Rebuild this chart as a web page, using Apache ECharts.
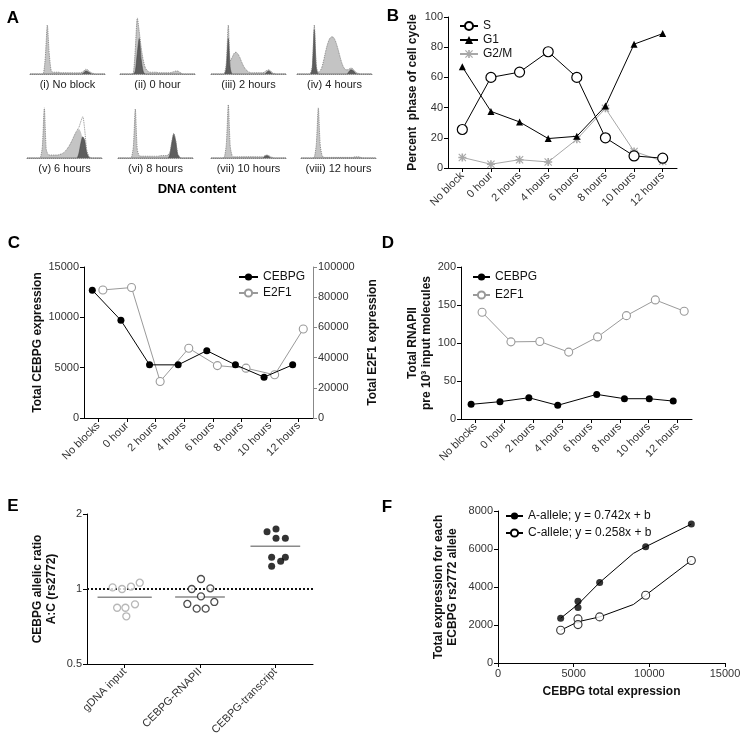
<!DOCTYPE html>
<html><head><meta charset="utf-8">
<script src="https://cdn.jsdelivr.net/npm/echarts@6/dist/echarts.min.js"></script>
<style>html,body{margin:0;padding:0;background:#fff}#c{width:748px;height:747px}</style>
</head><body><div id="c"></div>
<script>
// ---------- Panel A: DNA-content histograms (40 bins each) ----------
const histLabels = ['(i) No block','(ii) 0 hour','(iii) 2 hours','(iv) 4 hours','(v) 6 hours','(vi) 8 hours','(vii) 10 hours','(viii) 12 hours'];
const histI_total   = [0,0,0,0,0,0,0,1,30,83,35,6,3,3,3,3,2,2,2,2,2,2,2,2,2,2,2,3,5,8,7,4,2,1,0,0,0,0,0,0];
const histI_dark    = [0,0,0,0,0,0,0,0,0,0,0,0,0,0,0,0,0,0,0,0,0,0,0,0,0,0,0,0,2,5,4,2,0,0,0,0,0,0,0,0];
const histII_total  = [0,0,0,0,0,0,0,3,45,95,72,45,25,12,6,4,3,3,3,3,2,2,2,2,2,2,2,3,4,5,5,3,1,0,0,0,0,0,0,0];
const histII_dark   = [0,0,0,0,0,0,0,0,5,35,60,25,5,0,0,0,0,0,0,0,0,0,0,0,0,0,0,0,0,0,0,0,0,0,0,0,0,0,0,0];
const histIII_total = [0,0,0,0,0,0,0,1,20,83,22,28,35,37,34,28,20,13,8,5,3,2,2,2,2,2,2,2,4,6,7,5,2,1,0,0,0,0,0,0];
const histIII_dark  = [0,0,0,0,0,0,0,0,10,60,10,0,0,0,0,0,0,0,0,0,0,0,0,0,0,0,0,0,0,3,5,3,0,0,0,0,0,0,0,0];
const histIV_total  = [0,0,0,0,0,0,0,1,15,83,15,3,5,12,25,40,52,60,63,62,56,46,34,22,13,8,7,8,10,9,5,2,1,0,0,0,0,0,0,0];
const histIV_dark   = [0,0,0,0,0,0,0,0,10,75,10,0,0,0,0,0,0,0,0,0,0,0,0,0,0,0,0,4,7,6,3,0,0,0,0,0,0,0,0,0];
const histV_total   = [0,0,0,0,0,0,0,1,20,85,15,6,5,5,5,5,5,6,7,9,12,16,21,27,34,41,47,52,62,70,48,15,4,1,0,0,0,0,0,0];
const histV_light   = [0,0,0,0,0,0,0,1,20,85,15,6,5,5,5,5,5,6,7,9,12,16,21,27,34,41,46,49,44,30,12,3,0,0,0,0,0,0,0,0];
const histV_dark    = [0,0,0,0,0,0,0,0,0,0,0,0,0,0,0,0,0,0,0,0,0,0,0,0,0,0,0,8,25,36,30,10,2,0,0,0,0,0,0,0];
const histVI_total  = [0,0,0,0,0,0,0,1,20,83,15,4,3,3,3,3,3,3,3,3,3,3,4,4,4,4,5,10,28,42,30,8,2,0,0,0,0,0,0,0];
const histVI_dark   = [0,0,0,0,0,0,0,0,0,0,0,0,0,0,0,0,0,0,0,0,0,0,0,0,0,0,0,6,25,40,28,6,1,0,0,0,0,0,0,0];
const histVII_total = [0,0,0,0,0,0,0,2,25,90,20,4,2,2,2,2,2,2,2,2,2,2,2,2,2,2,2,2,4,5,4,2,1,0,0,0,0,0,0,0];
const histVII_dark  = [0,0,0,0,0,0,0,0,0,0,0,0,0,0,0,0,0,0,0,0,0,0,0,0,0,0,0,0,3,4,3,0,0,0,0,0,0,0,0,0];
const histVIII_total= [0,0,0,0,0,0,0,2,25,85,22,4,1,1,1,1,1,1,1,1,1,1,1,1,1,1,1,1,2,2,2,1,0,0,0,0,0,0,0,0];
const histVIII_dark = [0,0,0,0,0,0,0,0,0,0,0,0,0,0,0,0,0,0,0,0,0,0,0,0,0,0,0,0,0,0,0,0,0,0,0,0,0,0,0,0];

// ---------- Panel B ----------
const timeCatsB = ['No block','0 hour','2 hours','4 hours','6 hours','8 hours','10 hours','12 hours'];
const sPhase   = [25.5,60,63.5,77,60,20,8,6.5];
const g1Phase  = [67,37.5,30.5,19.5,21,41,82,89];
const g2mPhase = [7,2.5,5.5,4,19,39.5,11,4.5];

// ---------- Panel C ----------
const timeCats = ['No blocks','0 hour','2 hours','4 hours','6 hours','8 hours','10 hours','12 hours'];
const cebpgExpr = [12700,9700,5280,5280,6690,5280,4060,5280];
const e2f1Expr  = [84800,86400,24200,46200,34700,33000,28600,58900];

// ---------- Panel D ----------
const rnapCebpg = [19.3,22.8,28,18,32.4,26.7,26.7,23.6];
const rnapE2f1  = [140.5,101.5,102,88,108,136,156.7,141.8];

// ---------- Panel E ----------
const ratioCats = ['gDNA input','CEBPG-RNAPII','CEBPG-transcript'];
const ratioGdna       = [1.015,1.0,1.022,1.06,0.841,0.841,0.868,0.777];
const ratioRnap       = [1.097,1.0,1.006,0.934,0.871,0.834,0.834,0.887];
const ratioTranscript = [1.698,1.741,1.598,1.598,1.34,1.291,1.34,1.233];
const ratioMeans      = [0.926,0.928,1.484];

// ---------- Panel F ----------
const aAllelePts  = [[4141,2356],[5286,3253],[5286,2919],[6718,4237],[9758,6118],[12775,7314]];
const cAllelePts  = [[4141,1723],[5286,2321],[5286,2022],[6718,2426],[9758,3569],[12775,5397]];
const aAlleleLine = [[4141,2356],[5286,3086],[6718,4237],[8943,5767],[9758,6118],[12775,7314]];
const cAlleleLine = [[4141,1723],[5286,2171],[6718,2426],[8943,3077],[9758,3569],[12775,5397]];

// ================= layout / styling =================
const FONT = 'Liberation Sans, Arial, Helvetica, sans-serif';
const BLACK = '#000', GREY = '#9a9a9a', LABEL = '#333';
const hists = [
  {t:histI_total,d:histI_dark},{t:histII_total,d:histII_dark},{t:histIII_total,d:histIII_dark},{t:histIV_total,d:histIV_dark},
  {t:histV_total,l:histV_light,d:histV_dark},{t:histVI_total,d:histVI_dark},{t:histVII_total,d:histVII_dark},{t:histVIII_total,d:histVIII_dark}
];
const histLefts = [30,120,211,297,27,118,211,301];
const grids=[], xAxes=[], yAxes=[], series=[];
const pairs = arr => arr.map((v,k)=>[k,v]);

hists.forEach((h,i)=>{
  const row = i<4 ? 0 : 1;
  grids.push({left:histLefts[i], top: row ? 99 : 15, width:75, height:59, outerBoundsMode:'none'});
  xAxes.push({gridIndex:i,type:'value',min:0,max:39,position:'bottom',
    axisLine:{show:true,onZero:false,lineStyle:{color:'#8a8a8a',width:1,type:'dotted'}},
    axisTick:{show:false},axisLabel:{show:false},splitLine:{show:false},
    name:histLabels[i],nameLocation:'middle',nameGap:5,
    nameTextStyle:{fontSize:11,color:'#222',fontFamily:FONT}});
  yAxes.push({gridIndex:i,type:'value',min:0,max:100,show:false,splitLine:{show:false}});
  series.push({type:'line',xAxisIndex:i,yAxisIndex:i,data:pairs(h.l||h.t),symbol:'none',smooth:0.25,silent:true,
    lineStyle:{width:0},areaStyle:{color:'#c4c4c4',opacity:1},z:1});
  series.push({type:'line',xAxisIndex:i,yAxisIndex:i,data:pairs(h.d),symbol:'none',smooth:0.25,silent:true,
    lineStyle:{width:0.6,color:'#444'},areaStyle:{color:'#5e5e5e',opacity:1},z:2});
  series.push({type:'line',xAxisIndex:i,yAxisIndex:i,data:pairs(h.t),symbol:'none',smooth:0.25,silent:true,
    lineStyle:{width:0.9,color:'#7a7a7a',type:'dotted'},z:3});
});

const mkAxisLine = (c) => ({show:true,onZero:false,lineStyle:{color:c||BLACK,width:1}});
const mkTick = (c) => ({show:true,length:4,lineStyle:{color:c||BLACK,width:1}});
const mkLbl = () => ({fontSize:11,color:LABEL,fontFamily:FONT,margin:5,formatter:v=>String(v)});
const titleStyle = {fontSize:12,fontWeight:'bold',color:'#111',fontFamily:FONT,lineHeight:14};

function catAxis(gi, data, extra){
  return Object.assign({gridIndex:gi,type:'category',data:data,boundaryGap:true,position:'bottom',
    axisLine:mkAxisLine(),axisTick:Object.assign({alignWithLabel:true},mkTick()),
    axisLabel:{fontSize:11,color:LABEL,fontFamily:FONT,rotate:45,margin:6,interval:0},splitLine:{show:false}},extra||{});
}
function valAxis(gi, min, max, interval, extra){
  return Object.assign({gridIndex:gi,type:'value',min:min,max:max,interval:interval,
    axisLine:mkAxisLine(),axisTick:mkTick(),axisLabel:mkLbl(),splitLine:{show:false}},extra||{});
}
function hiddenX(gi, min, max){ return {gridIndex:gi,type:'value',min:min,max:max,show:false,position:'top',splitLine:{show:false},axisLine:{show:false,onZero:false}}; }

// grid indices
const GB=8, GC=9, GD=10, GE=11, GF=12;
grids.push({left:448, top:17, width:229, height:151, outerBoundsMode:'none'});   // B
grids.push({left:84,  top:267, width:229, height:151, outerBoundsMode:'none'});  // C
grids.push({left:461, top:267, width:231, height:152, outerBoundsMode:'none'});  // D
grids.push({left:87,  top:514, width:226, height:150, outerBoundsMode:'none'});  // E
grids.push({left:498, top:511, width:227, height:152, outerBoundsMode:'none'});  // F

// x axes
const XB = xAxes.push(catAxis(GB, timeCatsB)) - 1;
const XC = xAxes.push(catAxis(GC, timeCats)) - 1;
const XCv = xAxes.push(hiddenX(GC, -0.5, 7.5)) - 1;
const XD = xAxes.push(catAxis(GD, timeCats)) - 1;
const XDv = xAxes.push(hiddenX(GD, -0.5, 7.5)) - 1;
const XE = xAxes.push(catAxis(GE, ratioCats)) - 1;
const XEv = xAxes.push(hiddenX(GE, -0.5, 2.5)) - 1;
const XF = xAxes.push(valAxis(GF, 0, 15000, 5000, {position:'bottom',name:'CEBPG total expression',nameLocation:'middle',nameGap:22,nameTextStyle:titleStyle})) - 1;

// y axes
const YB = yAxes.push(valAxis(GB, 0, 100, 20, {name:'Percent  phase of cell cycle',nameLocation:'middle',nameGap:28,nameRotate:90,nameTextStyle:titleStyle})) - 1;
const YC = yAxes.push(valAxis(GC, 0, 15000, 5000, {name:'Total CEBPG expression',nameLocation:'middle',nameGap:32,nameRotate:90,nameTextStyle:titleStyle})) - 1;
const YC2 = yAxes.push(valAxis(GC, 0, 100000, 20000, {position:'right',axisLine:mkAxisLine('#888'),axisTick:mkTick('#888'),
  name:'Total E2F1 expression',nameLocation:'middle',nameGap:53,nameRotate:90,nameTextStyle:titleStyle})) - 1;
const YD = yAxes.push(valAxis(GD, 0, 200, 50, {name:'Total RNAPII\npre 10³ input molecules',nameLocation:'middle',nameGap:22,nameRotate:90,nameTextStyle:titleStyle})) - 1;
const YE = yAxes.push({gridIndex:GE,type:'log',logBase:2,min:0.5,max:2,axisLine:mkAxisLine(),axisTick:mkTick(),
  axisLabel:mkLbl(),splitLine:{show:false},minorTick:{show:false},
  name:'CEBPG allelic ratio\nA:C (rs2772)',nameLocation:'middle',nameGap:28,nameRotate:90,nameTextStyle:titleStyle}) - 1;
const YF = yAxes.push(valAxis(GF, 0, 8000, 2000, {name:'Total expression for each\nECBPG rs2772 allele',nameLocation:'middle',nameGap:38,nameRotate:90,nameTextStyle:titleStyle})) - 1;

// ---- B series ----
const asterisk = 'path://M4,0h2v10h-2zM0,4h10v2h-10zM1,0L10,9L9,10L0,1zM9,0L10,1L1,10L0,9z';
series.push({name:'S',type:'line',xAxisIndex:XB,yAxisIndex:YB,data:sPhase,symbol:'circle',symbolSize:10,
  itemStyle:{color:'#fff',borderColor:BLACK,borderWidth:1.2},lineStyle:{color:BLACK,width:1},z:5});
series.push({name:'G1',type:'line',xAxisIndex:XB,yAxisIndex:YB,data:g1Phase,symbol:'triangle',symbolSize:7,
  itemStyle:{color:BLACK},lineStyle:{color:BLACK,width:1},z:5});
series.push({name:'G2/M',type:'line',xAxisIndex:XB,yAxisIndex:YB,data:g2mPhase,symbol:asterisk,symbolSize:8,
  itemStyle:{color:'#a8a8a8'},lineStyle:{color:'#a8a8a8',width:1},z:4});

// ---- C series ----
const cShiftCebpg = -0.21, cShiftE2f1 = 0.16;
series.push({name:'CEBPG',type:'line',xAxisIndex:XCv,yAxisIndex:YC,data:cebpgExpr.map((v,i)=>[i+cShiftCebpg,v]),
  symbol:'circle',symbolSize:7,itemStyle:{color:BLACK},lineStyle:{color:BLACK,width:1},z:5});
series.push({name:'E2F1',type:'line',xAxisIndex:XCv,yAxisIndex:YC2,data:e2f1Expr.map((v,i)=>[i+cShiftE2f1,v]),
  symbol:'circle',symbolSize:8,itemStyle:{color:'#fff',borderColor:GREY,borderWidth:1.1},lineStyle:{color:GREY,width:1},z:4});

// ---- D series ----
const dShiftCebpg = [-0.15,-0.15,-0.15,-0.15,0.2,0.16,0.02,-0.15], dShiftE2f1 = 0.23;
series.push({name:'CEBPG',type:'line',xAxisIndex:XDv,yAxisIndex:YD,data:rnapCebpg.map((v,i)=>[i+dShiftCebpg[i],v]),
  symbol:'circle',symbolSize:7,itemStyle:{color:BLACK},lineStyle:{color:BLACK,width:1},z:5});
series.push({name:'E2F1',type:'line',xAxisIndex:XDv,yAxisIndex:YD,data:rnapE2f1.map((v,i)=>[i+dShiftE2f1,v]),
  symbol:'circle',symbolSize:8,itemStyle:{color:'#fff',borderColor:GREY,borderWidth:1.1},lineStyle:{color:GREY,width:1},z:4});

// ---- E series ----
const jitGdna = [-0.16,-0.035,0.084,0.2,-0.1,0.01,0.137,0.022];
const jitRnap = [0.013,-0.11,0.137,0.013,-0.168,-0.044,0.075,0.19];
const jitTran = [-0.11,0.009,0.009,0.133,-0.049,0.071,0.133,-0.049];
const meanHalf = [0.36,0.33,0.33];
series.push({type:'scatter',xAxisIndex:XEv,yAxisIndex:YE,data:ratioGdna.map((v,i)=>[0+jitGdna[i],v]),symbol:'circle',symbolSize:7,
  itemStyle:{color:'#fff',borderColor:'#a5a5a5',borderWidth:1.3},z:5,
  markLine:{silent:true,symbol:'none',label:{show:false},
    data:[{yAxis:1,lineStyle:{color:'#111',type:'dotted',width:2}},{yAxis:0.5,lineStyle:{color:BLACK,type:'solid',width:1}}]}});
series.push({type:'scatter',xAxisIndex:XEv,yAxisIndex:YE,data:ratioRnap.map((v,i)=>[1+jitRnap[i],v]),symbol:'circle',symbolSize:7,
  itemStyle:{color:'#fff',borderColor:'#222',borderWidth:1.3},z:5});
series.push({type:'scatter',xAxisIndex:XEv,yAxisIndex:YE,data:ratioTranscript.map((v,i)=>[2+jitTran[i],v]),symbol:'circle',symbolSize:7,
  itemStyle:{color:BLACK},z:5});
ratioMeans.forEach((m,i)=>{
  series.push({type:'line',xAxisIndex:XEv,yAxisIndex:YE,data:[[i-meanHalf[i],m],[i+meanHalf[i],m]],symbol:'none',silent:true,
    lineStyle:{color:'#8a8a8a',width:1.5},z:3});
});

// ---- F series ----
const nameA = 'A-allele; y = 0.742x + b', nameC = 'C-allele; y = 0.258x + b';
series.push({name:nameA,type:'line',xAxisIndex:XF,yAxisIndex:YF,data:aAlleleLine,symbol:'circle',showSymbol:false,symbolSize:7,
  itemStyle:{color:BLACK},lineStyle:{color:BLACK,width:1},z:3});
series.push({name:nameC,type:'line',xAxisIndex:XF,yAxisIndex:YF,data:cAlleleLine,symbol:'circle',showSymbol:false,symbolSize:8,
  itemStyle:{color:'#fff',borderColor:BLACK,borderWidth:1.1},lineStyle:{color:BLACK,width:1},z:3});
series.push({type:'scatter',xAxisIndex:XF,yAxisIndex:YF,data:aAllelePts,symbol:'circle',symbolSize:7,itemStyle:{color:BLACK},z:5});
series.push({type:'scatter',xAxisIndex:XF,yAxisIndex:YF,data:cAllelePts,symbol:'circle',symbolSize:8,
  itemStyle:{color:'#fff',borderColor:BLACK,borderWidth:1.1},z:5});

const legendText = {fontSize:12,color:'#111',fontFamily:FONT};
const legends = [
  {data:['S','G1','G2/M'],left:459,top:20,padding:0,orient:'vertical',itemWidth:18,itemHeight:10,itemGap:2,textStyle:legendText,selectedMode:false},
  {data:['CEBPG','E2F1'],left:238,top:271,padding:0,orient:'vertical',itemWidth:19,itemHeight:9,itemGap:4,textStyle:legendText,selectedMode:false},
  {data:['CEBPG','E2F1'],left:472,top:271,padding:0,orient:'vertical',itemWidth:17,itemHeight:9,itemGap:6,textStyle:legendText,selectedMode:false},
  {data:[nameA,nameC],left:505,top:510,padding:0,orient:'vertical',itemWidth:17,itemHeight:9,itemGap:5,textStyle:legendText,selectedMode:false}
];

const letter = (t,x,y)=>({type:'text',x:x,y:y,style:{text:t,font:'bold 17px '+FONT,fill:'#000',align:'center',verticalAlign:'middle'}});
const graphics = [
  letter('A',13,18), letter('B',393,16), letter('C',14,243), letter('D',388,243), letter('E',13,506), letter('F',387,507),
  {type:'text',x:197,y:189,style:{text:'DNA content',font:'bold 13px '+FONT,fill:'#000',align:'center',verticalAlign:'middle'}}
];

const chart = echarts.init(document.getElementById('c'), null, {renderer:'canvas'});
chart.setOption({
  animation:false,
  backgroundColor:'#fff',
  textStyle:{fontFamily:FONT},
  grid:grids, xAxis:xAxes, yAxis:yAxes, series:series, legend:legends, graphic:graphics
});
</script></body></html>
